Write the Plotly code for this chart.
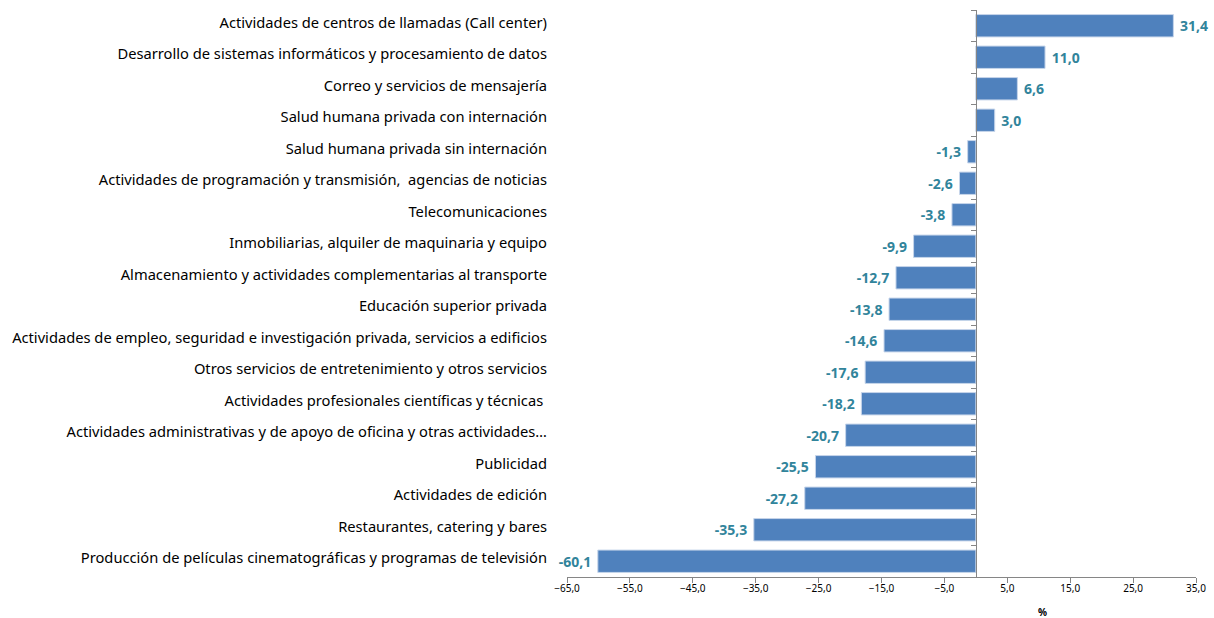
import plotly.graph_objects as go

categories = [
    "Actividades de centros de llamadas (Call center)",
    "Desarrollo de sistemas informáticos y procesamiento de datos",
    "Correo y servicios de mensajería",
    "Salud humana privada con internación",
    "Salud humana privada sin internación",
    "Actividades de programación y transmisión,  agencias de noticias",
    "Telecomunicaciones",
    "Inmobiliarias, alquiler de maquinaria y equipo",
    "Almacenamiento y actividades complementarias al transporte",
    "Educación superior privada",
    "Actividades de empleo, seguridad e investigación privada, servicios a edificios",
    "Otros servicios de entretenimiento y otros servicios",
    "Actividades profesionales científicas y técnicas ",
    "Actividades administrativas y de apoyo de oficina y otras actividades…",
    "Publicidad",
    "Actividades de edición",
    "Restaurantes, catering y bares",
    "Producción de películas cinematográficas y programas de televisión",
]
values = [31.4, 11.0, 6.6, 3.0, -1.3, -2.6, -3.8, -9.9, -12.7, -13.8, -14.6,
          -17.6, -18.2, -20.7, -25.5, -27.2, -35.3, -60.1]
x_ticks = [-65, -55, -45, -35, -25, -15, -5, 5, 15, 25, 35]

n = len(categories)
FONT = "Noto Sans"
NB = "\u00a0"
templates = [(NB + "%{x:.1f}") if v >= 0 else ("%{x:.1f}" + NB) for v in values]

fig = go.Figure()
fig.add_trace(go.Bar(
    x=values, y=categories, orientation="h",
    marker=dict(color="#4F81BD", line=dict(color="#C6D5EA", width=1)),
    text=values, texttemplate=templates, textposition="outside",
    textfont=dict(family=FONT, size=14, color="#31849B", weight="bold"),
    cliponaxis=False, showlegend=False, hoverinfo="x+y",
))
# invisible trace to carry the boundary-tick axis at zero
fig.add_trace(go.Scatter(x=[0, 0], y=[-0.5, n - 0.5], yaxis="y2", mode="lines",
                         line=dict(width=0), showlegend=False, hoverinfo="skip"))

zero_pos = (0 - x_ticks[0]) / (x_ticks[-1] - x_ticks[0])

fig.update_layout(
    width=1214, height=618,
    margin=dict(l=567, r=18, t=10, b=41),
    paper_bgcolor="white", plot_bgcolor="white",
    separators=",.",
    bargap=0.29,
    font=dict(family=FONT, color="#000000"),
    xaxis=dict(
        range=[x_ticks[0], x_ticks[-1]], tickvals=x_ticks, tickformat=".1f",
        showgrid=False, zeroline=False, automargin=False,
        showline=True, linecolor="#868686", linewidth=1,
        ticks="outside", ticklen=5, tickcolor="#868686",
        ticklabelstandoff=-3,
        tickfont=dict(family=FONT, size=10, color="#000000"),
    ),
    yaxis=dict(
        autorange="reversed", type="category", automargin=False,
        showgrid=False, zeroline=False, showline=False, ticks="",
        ticklabelstandoff=19, ticklabelshift=3,
        tickfont=dict(family=FONT, size=14.7, color="#000000"),
    ),
    yaxis2=dict(
        overlaying="y", anchor="free", position=zero_pos, side="left",
        range=[n - 0.5, -0.5], tickvals=[i - 0.5 for i in range(n + 1)],
        showticklabels=False, showgrid=False, zeroline=False, automargin=False,
        showline=True, linecolor="#868686", linewidth=1,
        ticks="outside", ticklen=5, tickcolor="#868686",
    ),
    annotations=[dict(text="<b>%</b>", xref="paper", yref="paper",
                      x=0.756, y=-0.061, xanchor="center", yanchor="middle",
                      showarrow=False, font=dict(family=FONT, size=10, color="#000000"))],
)

fig.write_html("out.html", config={"displayModeBar": False},
               post_script="document.body.style.margin='0';document.body.style.overflow='hidden';")
